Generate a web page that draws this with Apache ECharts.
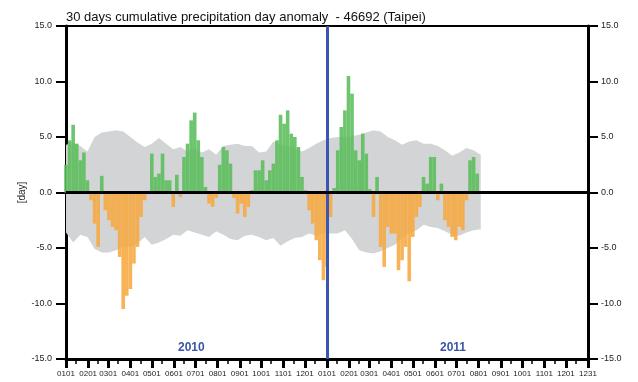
<!DOCTYPE html>
<html>
<head>
<meta charset="utf-8">
<script src="https://cdn.jsdelivr.net/npm/echarts@6/dist/echarts.min.js"></script>
<style>
  html, body { margin: 0; padding: 0; background: #fff; }
  #chart { width: 638px; height: 382px; }
</style>
</head>
<body>
<div id="chart"></div>
<script>
// 30-day cumulative precipitation day anomaly, Taipei, 2010-2011
// anomaly sampled every 5 days from 2010-01-01
const anomStep = 5
const anomaly = [
  2.5, 4.7, 6.1, 4.4, 2.9, 3.6, 1.1, -0.7, -2.8, -4.9,
  1.5, -1.6, -2.5, -3.1, -3.4, -5.8, -10.5, -9.3, -8.7, -6.4,
  -4.9, -2.2, -0.7, -0.1, 3.5, 1.4, 1.7, 3.5, 1.1, 1.1,
  -1.3, 1.6, -0.4, 3.2, 4.4, 6.5, 7.2, 4.7, 3.2, 0.5,
  -1.0, -1.3, -0.5, 2.5, 4.1, 3.8, 2.6, -0.5, -1.9, -1.0,
  -2.2, -1.3, 0.2, 2.0, 2.0, 2.9, 1.1, 2.0, 2.6, 4.7,
  7.0, 6.2, 7.4, 5.3, 5.0, 4.1, 1.4, 0.2, -1.6, -2.8,
  -4.3, -6.1, -7.9, -6.7, -2.2, 0.4, 3.8, 5.9, 7.4, 10.5,
  8.9, 3.8, 2.9, 5.3, 3.5, 0.3, -2.2, 1.4, -4.9, -6.7,
  -3.1, -3.7, -3.7, -7.0, -6.1, -4.9, -8.0, -4.0, -2.2, -1.3,
  1.4, 0.8, 3.2, 3.2, -0.7, 0.8, -2.5, -3.1, -4.0, -4.3,
  -3.1, -3.4, -0.7, 2.9, 3.2, 1.7
]

// grey spread band, sampled every 10 days
const bandStep = 10
const bandUpper = [
  4.3, 4.5, 4.2, 3.7, 5.0, 5.4, 5.5, 5.6, 5.5, 5.0,
  4.5, 4.1, 4.4, 4.9, 4.4, 3.9, 4.1, 3.7, 4.0, 3.6,
  3.9, 3.4, 4.2, 4.3, 4.4, 4.2, 4.2, 3.6, 3.7, 4.6,
  4.3, 4.2, 4.0, 3.7, 4.0, 4.4, 4.7, 4.9, 5.0, 5.0,
  5.1, 5.2, 5.4, 5.6, 5.5, 5.0, 4.7, 4.3, 4.6, 4.7,
  4.4, 4.4, 4.2, 3.8, 3.3, 3.6, 4.0, 3.8, 3.4
]
const bandLower = [
  -3.6, -4.5, -3.8, -4.0, -5.1, -5.4, -5.4, -5.2, -4.9, -4.9,
  -4.6, -4.0, -4.7, -4.5, -4.2, -3.8, -3.9, -3.4, -3.6, -3.8,
  -4.0, -3.5, -3.8, -4.2, -4.3, -3.9, -3.8, -4.0, -4.3, -4.1,
  -4.8, -4.4, -4.1, -4.0, -3.7, -3.9, -3.7, -3.7, -3.7, -3.4,
  -4.2, -5.2, -5.4, -5.5, -5.3, -5.0, -4.7, -4.1, -3.7, -3.4,
  -2.9, -3.1, -3.2, -3.5, -3.8, -3.9, -3.6, -3.4, -3.3
]

// x axis ticks (day index from 2010-01-01)
const majorDays = [0, 31, 59, 90, 120, 151, 181, 212, 243, 273, 304, 334,
  365, 396, 424, 455, 485, 516, 546, 577, 608, 638, 669, 699, 730]
const tickLabels = ['0101', '0201', '0301', '0401', '0501', '0601', '0701', '0801', '0901', '1001', '1101', '1201',
  '0101', '0201', '0301', '0401', '0501', '0601', '0701', '0801', '0901', '1001', '1101', '1201', '1231']
const minorDays = [14, 45, 73, 104, 134, 165, 195, 226, 257, 287, 318, 348,
  379, 410, 438, 469, 499, 530, 560, 591, 622, 652, 683, 713]
const yearDivide = 365
const yearLabels = ['2010', '2011']

const labelMap = {}
majorDays.forEach((d, i) => { labelMap[d] = tickLabels[i] })

const anomData = anomaly.map((v, i) => [i * anomStep, v])
const upperData = bandUpper.map((v, i) => [i * bandStep, v])
const lowerData = bandLower.map((v, i) => [i * bandStep, v])

const font = 'Liberation Sans, Arial, sans-serif'
const myChart = echarts.init(document.getElementById('chart'))

const option = {
  animation: false,
  backgroundColor: '#fff',
  title: {
    text: '30 days cumulative precipitation day anomaly  - 46692 (Taipei)',
    left: 66,
    top: 11,
    padding: 0,
    textStyle: { fontFamily: font, fontSize: 13, fontWeight: 'normal', color: '#111' }
  },
  grid: { left: 66, right: 50, top: 26, bottom: 23 },
  xAxis: [
    {
      type: 'value', min: 0, max: 730, position: 'bottom',
      axisLine: { show: true, onZero: false, lineStyle: { color: '#000', width: 3 } },
      splitLine: { show: false },
      axisTick: { show: true, customValues: majorDays, length: 9, lineStyle: { color: '#000', width: 3 } },
      axisLabel: {
        customValues: majorDays,
        formatter: v => labelMap[v] || '',
        fontSize: 8,
        color: '#222',
        margin: 11,
        fontFamily: font
      }
    },
    {
      type: 'value', min: 0, max: 730, position: 'bottom',
      axisLine: { show: false, onZero: false },
      splitLine: { show: false },
      axisTick: { show: true, customValues: minorDays, length: 5, lineStyle: { color: '#000', width: 1.5 } },
      axisLabel: { show: false }
    },
    {
      type: 'value', min: 0, max: 730, position: 'top',
      axisLine: { show: true, onZero: false, lineStyle: { color: '#000', width: 2 } },
      splitLine: { show: false },
      axisTick: { show: false },
      axisLabel: { show: false }
    }
  ],
  yAxis: [
    {
      type: 'value', min: -15, max: 15, interval: 5, position: 'left',
      name: '[day]', nameLocation: 'middle', nameGap: 39, nameMoveOverlap: false,
      nameTextStyle: { fontSize: 10, color: '#222', fontFamily: font },
      axisLine: { show: true, onZero: false, lineStyle: { color: '#000', width: 3 } },
      axisTick: { show: true, length: 10, lineStyle: { color: '#000', width: 2 } },
      splitLine: { show: false },
      axisLabel: { formatter: v => v.toFixed(1), fontSize: 9, color: '#222', margin: 14, fontFamily: font }
    },
    {
      type: 'value', min: -15, max: 15, interval: 5, position: 'right',
      axisLine: { show: true, onZero: false, lineStyle: { color: '#000', width: 3 } },
      axisTick: { show: true, length: 10, lineStyle: { color: '#000', width: 2 } },
      splitLine: { show: false },
      axisLabel: { formatter: v => v.toFixed(1), fontSize: 9, color: '#222', margin: 13, fontFamily: font }
    }
  ],
  series: [
    {
      // grey band, upper half
      type: 'line', z: 1, data: upperData, symbol: 'none', silent: true,
      lineStyle: { width: 0 },
      areaStyle: { color: '#d3d4d5', opacity: 1, origin: 0 }
    },
    {
      // grey band, lower half
      type: 'line', z: 1, data: lowerData, symbol: 'none', silent: true,
      lineStyle: { width: 0 },
      areaStyle: { color: '#d3d4d5', opacity: 1, origin: 0 }
    },
    {
      // year divider
      type: 'line', z: 2, data: [], silent: true,
      markLine: {
        silent: true, symbol: 'none', label: { show: false },
        lineStyle: { color: '#3a55b2', width: 3, type: 'solid' },
        data: [{ xAxis: yearDivide }]
      }
    },
    {
      type: 'bar', z: 3, data: anomData, barWidth: 3.6,
      itemStyle: {
        opacity: 0.88,
        color: p => (p.value[1] >= 0 ? '#59bd5a' : '#f6a83f')
      }
    },
    {
      // zero line
      type: 'line', z: 4, data: [], silent: true,
      markLine: {
        silent: true, symbol: 'none', label: { show: false },
        lineStyle: { color: '#000', width: 3, type: 'solid' },
        data: [{ yAxis: 0 }]
      }
    }
  ],
  graphic: [
    {
      type: 'text', left: 178, top: 342,
      style: { text: yearLabels[0], fill: '#3a56a8', font: 'bold 12px ' + font }
    },
    {
      type: 'text', left: 440, top: 342,
      style: { text: yearLabels[1], fill: '#3a56a8', font: 'bold 12px ' + font }
    }
  ]
}

myChart.setOption(option)
</script>
</body>
</html>
